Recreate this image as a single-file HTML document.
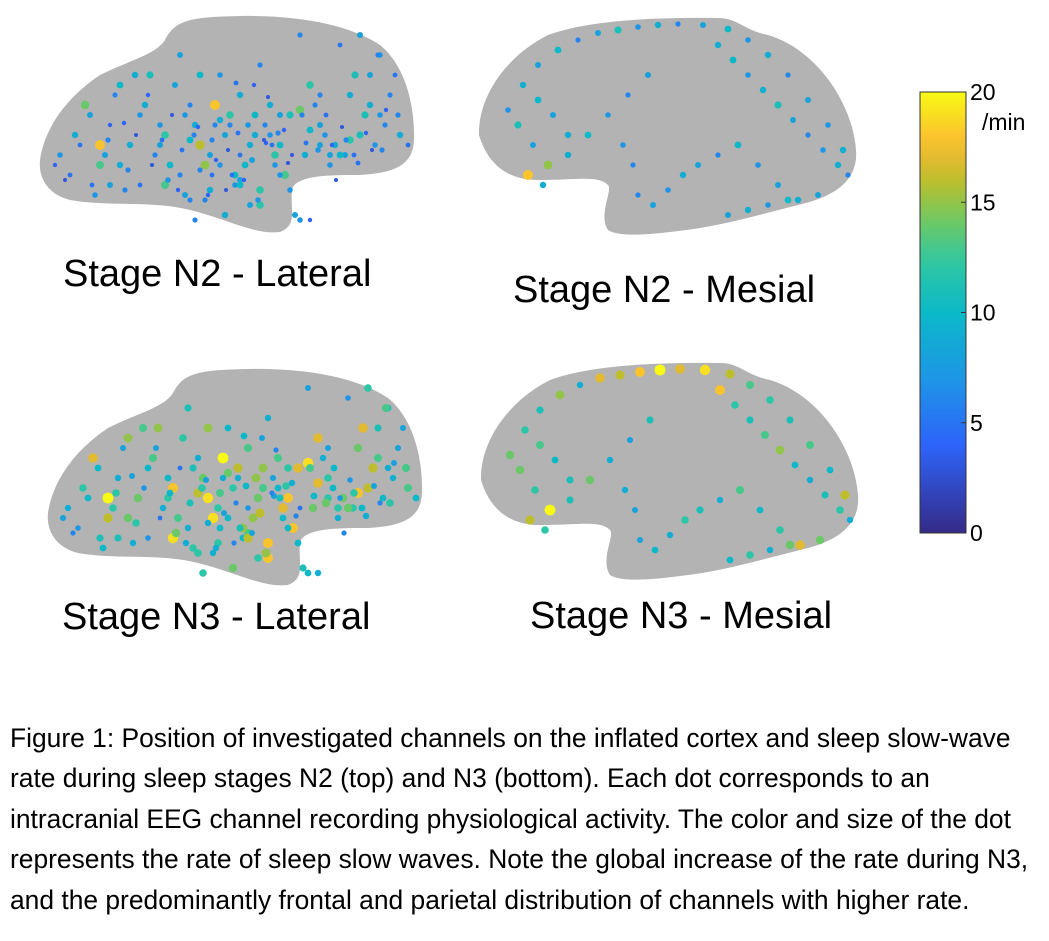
<!DOCTYPE html>
<html><head><meta charset="utf-8">
<style>
html,body{margin:0;padding:0;background:#fff;}
body{width:1049px;height:941px;position:relative;overflow:hidden;font-family:"Liberation Sans",Arial,sans-serif;}
.title{position:absolute;font-size:38px;color:#000;white-space:nowrap;}
.cap{position:absolute;left:10px;top:718px;width:1040px;font-size:26.4px;line-height:40.4px;color:#000;white-space:nowrap;}
</style></head>
<body>
<svg id="fig" width="1049" height="700" style="position:absolute;left:0;top:0"></svg>
<div class="title" style="left:63px;top:253px">Stage N2 - Lateral</div>
<div class="title" style="left:513px;top:269px">Stage N2 - Mesial</div>
<div class="title" style="left:62px;top:596px">Stage N3 - Lateral</div>
<div class="title" style="left:530px;top:595px">Stage N3 - Mesial</div>
<div class="cap">Figure 1: Position of investigated channels on the inflated cortex and sleep slow-wave<br>rate during sleep stages N2 (top) and N3 (bottom). Each dot corresponds to an<br>intracranial EEG channel recording physiological activity. The color and size of the dot<br>represents the rate of sleep slow waves. Note the global increase of the rate during N3,<br>and the predominantly frontal and parietal distribution of channels with higher rate.</div>
<script>
const NS="http://www.w3.org/2000/svg";
// lateral channel positions (local brain coords) and rates (/min)
const latX=[20,35,50,60,75,90,100,110,120,130,140,150,160,170,180,190,200,210,220,230,240,250,260,270,280,290,300,310,320,330,340,350,30,45,65,85,105,125,145,165,185,205,225,245,265,285,305,325,345,360,55,80,115,135,155,175,195,215,235,255,275,295,315,335,355,70,95,140,160,180,200,220,240,260,280,300,320,340,150,170,190,210,230,250,200,220,185,165,145,125,235,215,195,175,120,100,80,60,270,290,310,330,240,260,280,160,180,200,
 15,25,40,70,88,112,128,142,158,172,188,198,212,226,238,252,266,278,292,306,318,332,346,358,368,108,132,154,176,192,208,224,244,262,286,302,326,342,172,186,204,218,232,248,150,138,122,96,84,68,52,270,296,314,338,214,228,196,168,155];
const latY=[140,120,100,150,80,130,170,60,110,150,40,90,130,175,60,100,140,190,50,90,130,175,20,70,110,150,30,80,120,60,100,80,160,90,140,175,90,120,100,150,120,150,110,160,140,120,140,100,110,120,180,70,140,70,110,90,170,100,140,200,90,130,60,130,60,170,60,160,60,150,80,190,100,205,80,140,20,40,125,140,110,130,120,100,165,175,200,185,180,170,150,120,160,110,130,100,150,130,115,140,125,90,160,95,130,155,105,170,
 150,165,130,110,155,150,165,135,112,125,135,118,145,128,118,140,128,135,130,125,148,135,95,100,130,80,100,120,145,160,110,125,115,100,100,112,118,135,160,175,165,185,130,148,185,175,125,120,108,125,170,205,165,140,40,70,82,68,180,205];
const latN2=[7,9,8,13,6,9,5,11,7,10,8,6,16,9,7,12,5,8,6,9,10,7,6,12,8,7,5,9,11,8,7,6,5,14,8,6,9,12,7,15,8,10,6,13,9,7,8,11,6,9,7,10,6,8,9,18,7,10,12,8,6,9,11,7,5,8,9,6,10,7,9,12,8,7,6,10,8,7,10,8,6,9,7,11,8,12,9,6,8,13,7,9,10,6,8,7,9,18,10,8,12,9,7,14,8,6,9,10,
 4,3,5,4,6,3,7,5,4,6,3,5,8,4,6,3,5,7,4,6,5,3,4,6,5,4,3,6,4,5,7,3,4,6,5,3,4,6,5,3,4,7,5,3,6,4,5,3,4,6,5,4,3,5,6,4,3,5,4,6];
const latN3=[9,12,10,16,8,14,7,15,10,13,11,9,19,12,10,16,7,12,9,13,18,10,8,17,12,9,7,14,16,11,9,8,7,17,12,9,13,18,11,19,12,15,8,18,14,10,12,16,9,13,10,15,9,12,14,20,10,15,17,11,9,14,17,10,8,11,13,9,15,10,13,18,12,10,8,14,12,10,16,12,9,14,10,17,13,18,14,9,12,19,10,13,15,9,12,10,14,20,17,12,18,13,10,19,12,9,14,16,
 8,6,10,9,12,5,14,11,8,13,6,10,16,8,12,5,10,14,7,12,9,6,8,13,10,8,5,12,8,11,15,6,9,13,10,7,8,12,10,6,8,15,11,6,12,9,10,7,8,12,11,9,6,10,13,8,6,10,9,12];
// mesial channel positions and rates
const mesX=[30,45,60,80,100,120,140,160,180,200,225,250,270,290,310,330,350,365,370,40,55,70,90,110,130,150,170,240,255,270,285,300,315,330,345,360,60,75,90,50,65,160,175,190,205,220,240,260,280,300,320,340,145,155,250,270,290,310];
const mesY=[95,70,50,35,25,18,15,12,10,9,10,14,25,40,60,85,110,135,160,110,130,150,140,120,100,80,60,30,45,60,75,90,105,120,135,150,85,100,120,160,170,180,190,175,160,150,140,130,150,170,185,180,130,150,200,195,190,185];
const mesN2=[7,9,8,10,6,8,11,7,9,6,8,10,7,9,6,8,7,9,6,11,8,15,9,10,7,6,8,9,10,7,9,11,8,6,7,9,10,8,9,18,9,6,8,7,9,8,6,10,7,8,9,8,7,6,8,9,7,10];
const mesN3=[14,12,11,15,9,17,16,18,20,17,19,16,13,12,11,13,10,16,9,14,12,20,11,14,9,8,11,18,12,11,13,15,10,9,11,12,13,10,11,16,12,8,10,9,12,11,9,13,10,12,17,14,9,8,10,12,9,14];
const cbTicks=[0,5,10,15,20];

function parula(v){
  const stops=[[0,[53,42,135]],[0.2,[45,100,250]],[0.35,[30,150,230]],[0.5,[10,185,200]],[0.62,[50,200,160]],[0.72,[120,200,90]],[0.8,[190,190,45]],[0.88,[250,185,50]],[1,[249,250,20]]];
  v=Math.max(0,Math.min(1,v));
  for(let i=1;i<stops.length;i++){if(v<=stops[i][0]){const a=stops[i-1],b=stops[i],t=(v-a[0])/(b[0]-a[0]);
    return "rgb("+a[1].map((c,k)=>Math.round(c+(b[1][k]-c)*t)).join(",")+")";}}
  return "rgb(249,250,20)";
}
const svg=document.getElementById('fig');
const latPath="M0,145 C5,110 30,80 60,60 C90,45 115,40 125,25 C135,5 150,2 200,1 C260,0 310,10 340,30 C365,50 375,90 374,125 C373,150 355,158 320,160 C290,160 255,160 252,175 C250,195 258,210 240,217 C215,220 190,205 150,195 C110,185 70,192 30,185 C10,180 -2,165 0,145 Z";
const mesPath="M1,120 C0,80 30,40 70,20 C110,5 180,2 240,3 C260,3 265,15 290,20 C340,35 375,90 378,135 C380,160 365,180 320,190 C280,200 240,212 200,216 C170,220 140,222 130,215 C120,200 135,175 130,170 C120,160 100,165 60,165 C30,165 10,150 1,120 Z";
function brain(name,path,ox,oy,xs,ys,vals){
  const g=document.createElementNS(NS,'g');
  g.setAttribute('transform','translate('+ox+','+oy+')');
  
  
  const p=document.createElementNS(NS,'path');
  p.setAttribute('d',path);p.setAttribute('fill','#b3b3b3');
  
  
  g.appendChild(p);
  for(let i=0;i<xs.length;i++){
    const c=document.createElementNS(NS,'circle');
    c.setAttribute('cx',xs[i]);c.setAttribute('cy',ys[i]);
    c.setAttribute('r',1.4+vals[i]*0.2);
    c.setAttribute('fill',parula(vals[i]/20));
    
    
    g.appendChild(c);
  }
  svg.appendChild(g);
}
brain('brain-n2-lateral',latPath,40,15,latX,latY,latN2);
brain('brain-n2-mesial',mesPath,478,15,mesX,mesY,mesN2);
brain('brain-n3-lateral',latPath,48,368,latX,latY,latN3);
brain('brain-n3-mesial',mesPath,480,360,mesX,mesY,mesN3);
// colorbar
const cbX=920,cbW=46,cbTop=92,cbBot=533;
const yC=v=>cbBot-(v/20)*(cbBot-cbTop);
const defs=document.createElementNS(NS,'defs');
const lg=document.createElementNS(NS,'linearGradient');
lg.setAttribute('id','par');lg.setAttribute('x1','0');lg.setAttribute('y1','1');lg.setAttribute('x2','0');lg.setAttribute('y2','0');
for(let i=0;i<=20;i++){const s=document.createElementNS(NS,'stop');s.setAttribute('offset',i/20);s.setAttribute('stop-color',parula(i/20));lg.appendChild(s);}
defs.appendChild(lg);svg.appendChild(defs);
const cb=document.createElementNS(NS,'rect');
cb.setAttribute('x',cbX);cb.setAttribute('y',cbTop);cb.setAttribute('width',cbW);cb.setAttribute('height',cbBot-cbTop);
cb.setAttribute('fill','url(#par)');cb.setAttribute('stroke','#333');cb.setAttribute('stroke-width','1');


svg.appendChild(cb);
cbTicks.forEach(v=>{
  const l=document.createElementNS(NS,'line');
  l.setAttribute('x1',cbX+cbW-5);l.setAttribute('x2',cbX+cbW);l.setAttribute('y1',yC(v));l.setAttribute('y2',yC(v));l.setAttribute('stroke','#333');
  
  
  svg.appendChild(l);
  const t=document.createElementNS(NS,'text');
  t.setAttribute('x',cbX+cbW+4);t.setAttribute('y',yC(v)+8);t.setAttribute('font-size','23');t.setAttribute('font-family','Liberation Sans, sans-serif');
  t.textContent=v;
  
  
  svg.appendChild(t);
});
const u=document.createElementNS(NS,'text');
u.setAttribute('x',982);u.setAttribute('y',130);u.setAttribute('font-size','23');u.setAttribute('font-family','Liberation Sans, sans-serif');
u.textContent='/min';


svg.appendChild(u);
</script>
</body></html>
